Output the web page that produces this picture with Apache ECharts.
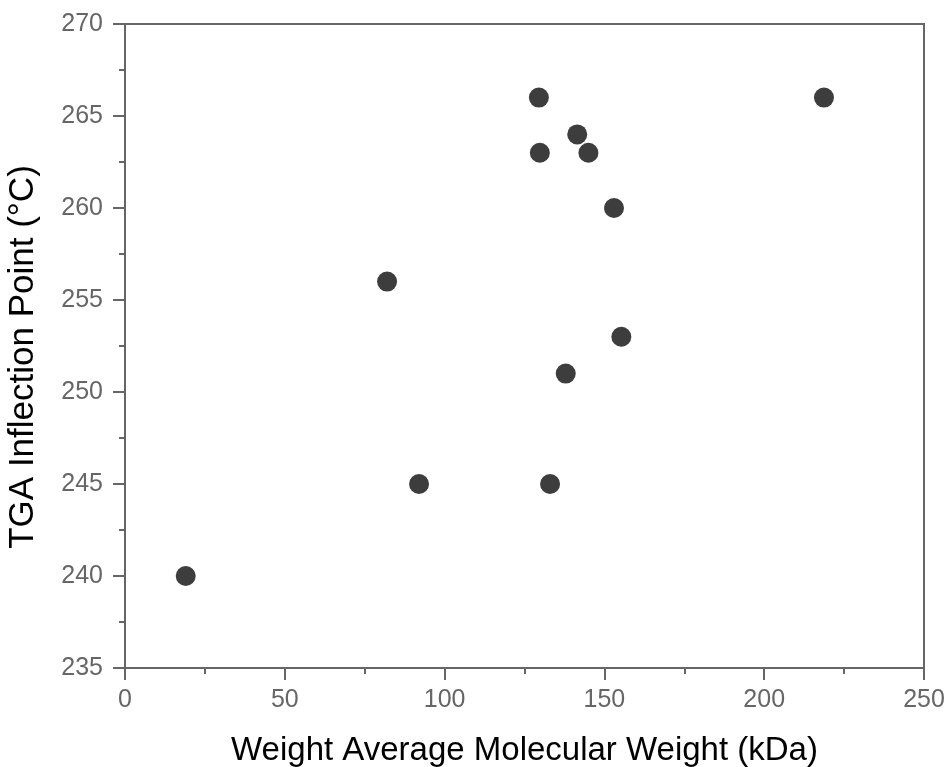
<!DOCTYPE html>
<html>
<head>
<meta charset="utf-8">
<script src="https://cdn.jsdelivr.net/npm/echarts@6/dist/echarts.min.js"></script>
<style>html,body{margin:0;padding:0;background:#fff;overflow:hidden;}#c{width:949px;height:767px;}</style>
</head>
<body>
<div id="c"></div>
<script>
var mwKDa = [19, 82, 92, 129.5, 129.8, 141.5, 145, 153, 155.3, 137.9, 133, 218.7];
var tgaC  = [240, 256, 245, 266, 263, 264, 263, 260, 253, 251, 245, 266];
var xTitle = 'Weight Average Molecular Weight (kDa)';
var yTitle = 'TGA Inflection Point (°C)';

var pts = mwKDa.map(function (x, i) { return [x, tgaC[i]]; });
var chart = echarts.init(document.getElementById('c'));
var font = 'Liberation Sans, Arial, sans-serif';
var axisCommon = {
  axisLine: { show: true, lineStyle: { color: '#666', width: 2 } },
  axisTick: { show: true, inside: false, length: 12, lineStyle: { color: '#666', width: 2 } },
  minorTick: { show: true, splitNumber: 2, length: 6, lineStyle: { color: '#666', width: 2 } },
  splitLine: { show: false },
  axisLabel: { color: '#666', fontSize: 25, fontFamily: font, margin: 20 },
  nameTextStyle: { color: '#000', fontSize: 33, fontFamily: font }
};
chart.setOption({
  animation: false,
  backgroundColor: '#fff',
  grid: { left: 125, right: 25, top: 24, bottom: 99, show: true, borderColor: '#666', borderWidth: 2,
          containLabel: false, outerBoundsMode: 'none' },
  xAxis: Object.assign({}, axisCommon, {
    type: 'value', min: 0, max: 250, interval: 50,
    name: xTitle, nameLocation: 'middle', nameGap: 66
  }),
  yAxis: Object.assign({}, axisCommon, {
    type: 'value', min: 235, max: 270, interval: 5,
    axisLabel: Object.assign({}, axisCommon.axisLabel, { margin: 22 }),
    name: yTitle, nameLocation: 'middle', nameGap: 84,
    nameTextStyle: { color: '#000', fontSize: 35, fontFamily: font, padding: [0, 22, 0, 0] }
  }),
  series: [{
    type: 'scatter', data: pts, symbolSize: 20,
    itemStyle: { color: '#3d3d3d', opacity: 1 }
  }]
});
</script>
</body>
</html>
